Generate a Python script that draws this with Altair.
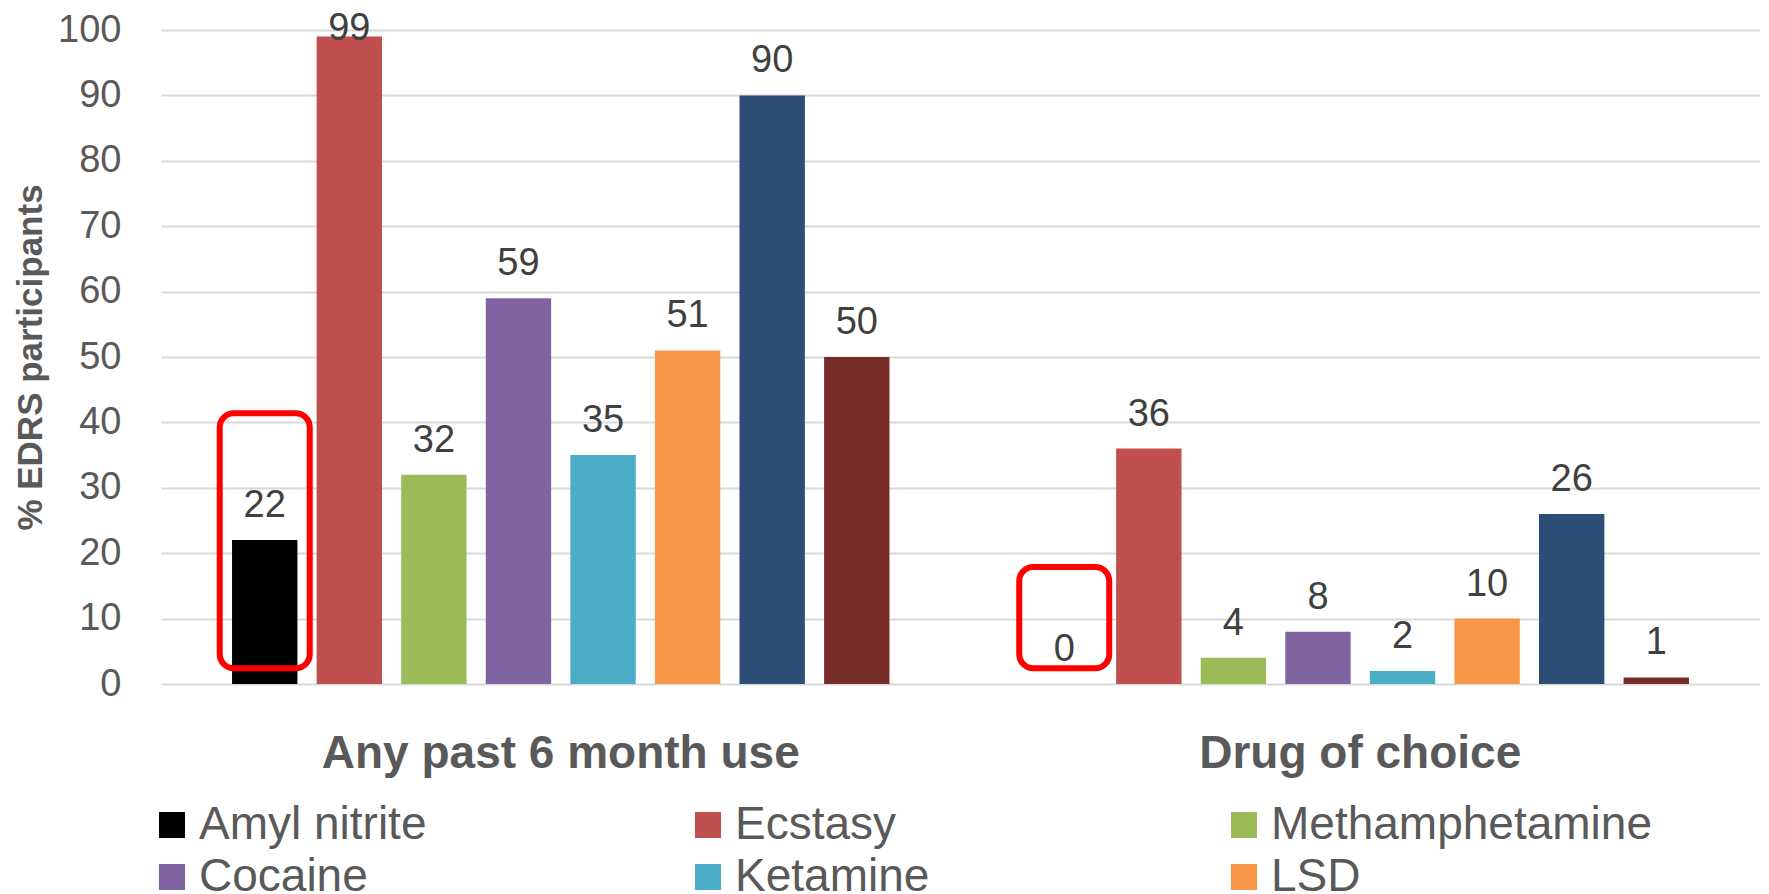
import altair as alt
import pandas as pd

FONT = "Liberation Sans"

categories = ["Any past 6 month use", "Drug of choice"]
drugs = ["Amyl nitrite", "Ecstasy", "Methamphetamine", "Cocaine", "Ketamine", "LSD",
         "Cannabis", "Nitrous oxide"]
past6 = [22, 99, 32, 59, 35, 51, 90, 50]
choice = [0, 36, 4, 8, 2, 10, 26, 1]
colors = ["#000000", "#C0504D", "#9BBB59", "#8064A2", "#4BACC6", "#F79646",
          "#2C4D75", "#772C2A"]
# legend entries (listed column by column: 2 rows x 3 columns)
legend_drugs = ["Amyl nitrite", "Cocaine", "Ecstasy", "Ketamine", "Methamphetamine", "LSD"]
y_ticks = list(range(0, 101, 10))
Y_TITLE = "% EDRS participants"

# highlight boxes around "Amyl nitrite" (in % units)
box_category = categories
box_drug = ["Amyl nitrite", "Amyl nitrite"]
box_low = [2.4, 2.4]
box_high = [41.4, 17.9]

rows = []
for cat, vals in zip(categories, [past6, choice]):
    for d, v in zip(drugs, vals):
        rows.append({"category": cat, "drug": d, "value": v})
df = pd.DataFrame(rows)
boxes = pd.DataFrame({"category": box_category, "drug": box_drug,
                      "low": box_low, "high": box_high})

x_enc = alt.X("category:N", sort=categories,
              scale=alt.Scale(domain=categories, paddingInner=0, paddingOuter=0),
              axis=alt.Axis(title=None, labelAngle=0, labelFontSize=46,
                            labelFontWeight="bold", labelColor="#595959",
                            labelPadding=47, ticks=False, domain=False,
                            labelFont=FONT, labelLimit=0))
xo_enc = alt.XOffset("drug:N", sort=drugs,
                     scale=alt.Scale(domain=drugs, paddingInner=0.227, paddingOuter=0.84))
y_scale = alt.Scale(domain=[0, 100], nice=False)
y_axis = alt.Axis(values=y_ticks, title=Y_TITLE,
                  titleFontSize=35, titleFont=FONT, titleColor="#595959",
                  titleFontWeight="bold", titlePadding=9,
                  labelFontSize=38, labelFont=FONT, labelColor="#595959",
                  labelPadding=40, ticks=False, domain=False,
                  grid=True, gridColor="#D9D9D9", gridWidth=2)

bars = alt.Chart(df).mark_bar().encode(
    x=x_enc,
    xOffset=xo_enc,
    y=alt.Y("value:Q", scale=y_scale, axis=y_axis, title=Y_TITLE),
    color=alt.Color("drug:N", scale=alt.Scale(domain=drugs, range=colors),
                    legend=alt.Legend(values=legend_drugs, title=None, orient="none",
                                      legendX=-12, legendY=772, columns=3,
                                      symbolType="square", symbolSize=676,
                                      symbolStrokeWidth=0, labelFontSize=46,
                                      labelColor="#595959", labelFont=FONT,
                                      columnPadding=105, rowPadding=6,
                                      gridAlign="all", labelOffset=4,
                                      labelLimit=0, symbolOpacity=1)),
)

labels = alt.Chart(df).transform_calculate(
    label_y="min(datum.value, 95)"
).mark_text(fontSize=38, font=FONT, color="#404040", baseline="alphabetic",
            dy=-23).encode(
    x=alt.X("category:N", sort=categories),
    xOffset=alt.XOffset("drug:N", sort=drugs),
    y=alt.Y("label_y:Q", scale=y_scale, title=Y_TITLE),
    text=alt.Text("value:Q"),
)

box_layer = alt.Chart(boxes).mark_bar(
    fill="transparent", stroke="#FF0000", strokeWidth=6, cornerRadius=14,
    width=90
).encode(
    x=alt.X("category:N", sort=categories),
    xOffset=alt.XOffset("drug:N", sort=drugs),
    y=alt.Y("high:Q", scale=y_scale, title=Y_TITLE),
    y2="low:Q",
)

chart = alt.layer(bars, labels, box_layer).properties(
    width=1599, height=654,
    autosize=alt.AutoSizeParams(type="none"),
    padding={"left": 153, "top": 22, "right": 0, "bottom": 210},
    background="white",
).configure_view(stroke=None)

chart.save("out.html", embed_options={"renderer": "svg", "actions": False})
